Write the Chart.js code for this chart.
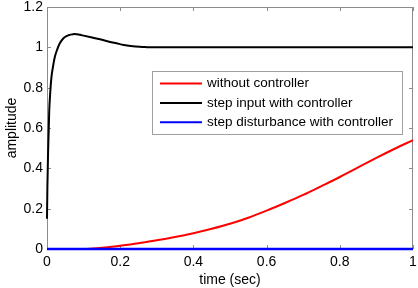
<!DOCTYPE html>
<html>
<head>
<meta charset="utf-8">
<script src="https://cdn.jsdelivr.net/npm/chart.js@4/dist/chart.umd.min.js"></script>
<style>
  html, body { margin: 0; padding: 0; background: #ffffff; }
  #wrap { width: 418px; height: 288px; }
</style>
</head>
<body>
<div id="wrap"><canvas id="respostaChart" width="418" height="288"></canvas></div>
<script>
// dados (tempo em segundos, amplitude)
const xTickLabels = ['0', '0.2', '0.4', '0.6', '0.8', '1'];
const yTickLabels = ['0', '0.2', '0.4', '0.6', '0.8', '1', '1.2'];

const tempoSemControle = [0.1, 0.15, 0.2, 0.25, 0.3, 0.35, 0.4, 0.45, 0.5, 0.55, 0.6, 0.65, 0.7, 0.75, 0.8, 0.85, 0.9, 0.95, 1.0];
const ampSemControle = [0, 0.006, 0.016, 0.028, 0.043, 0.059, 0.078, 0.1, 0.125, 0.155, 0.19, 0.228, 0.268, 0.312, 0.357, 0.405, 0.452, 0.497, 0.54];

const tempoDegrau = [0, 0.001, 0.003, 0.006, 0.009, 0.012, 0.016, 0.021, 0.028, 0.035, 0.045, 0.055, 0.065, 0.076, 0.09, 0.1, 0.12, 0.145, 0.17, 0.19, 0.21, 0.235, 0.26, 0.28, 0.3, 1.0];
const ampDegrau = [0.15, 0.3, 0.48, 0.68, 0.78, 0.85, 0.9, 0.95, 0.99, 1.02, 1.045, 1.057, 1.063, 1.066, 1.062, 1.058, 1.05, 1.04, 1.028, 1.02, 1.012, 1.005, 1.002, 1.0, 1.0, 1.0];

const tempoPerturbacao = [0, 1];
const ampPerturbacao = [0, 0];

const legendas = ['without controller', 'step input with controller', 'step disturbance with controller'];
const cores = ['#ff0000', '#000000', '#0000ff'];

const fonte = "'Liberation Sans', Arial, sans-serif";

function pares(xs, ys) {
    return xs.map((x, i) => ({ x: x, y: ys[i] }));
}

// moldura estilo MATLAB com marcas para dentro
const molduraPlugin = {
    id: 'moldura',
    beforeDatasetsDraw(chart) {
        const { ctx, chartArea: a, scales } = chart;
        ctx.save();
        ctx.strokeStyle = '#8c8c8c';
        ctx.lineWidth = 1;
        ctx.strokeRect(a.left + 0.5, a.top + 0.5, a.right - a.left - 1, a.bottom - a.top - 1);
        const len = 4;
        ctx.beginPath();
        scales.x.ticks.forEach(t => {
            const px = Math.round(scales.x.getPixelForValue(t.value)) + 0.5;
            ctx.moveTo(px, a.bottom); ctx.lineTo(px, a.bottom - len);
            ctx.moveTo(px, a.top); ctx.lineTo(px, a.top + len);
        });
        scales.y.ticks.forEach(t => {
            const py = Math.round(scales.y.getPixelForValue(t.value)) + 0.5;
            ctx.moveTo(a.left, py); ctx.lineTo(a.left + len, py);
            ctx.moveTo(a.right, py); ctx.lineTo(a.right - len, py);
        });
        ctx.stroke();
        ctx.restore();
    }
};

// legenda dentro da área do gráfico
const legendaPlugin = {
    id: 'legendaInterna',
    afterDraw(chart) {
        const { ctx, chartArea: a } = chart;
        const bx = a.left + 105, by = a.top + 64, bw = 250, bh = 63;
        ctx.save();
        ctx.fillStyle = '#ffffff';
        ctx.fillRect(bx, by, bw, bh);
        ctx.strokeStyle = '#a0a0a0';
        ctx.lineWidth = 1;
        ctx.strokeRect(bx + 0.5, by + 0.5, bw, bh);
        ctx.font = '13.5px ' + fonte;
        ctx.textBaseline = 'middle';
        chart.data.datasets.forEach((ds, i) => {
            const y = by + 12.5 + i * 19.4;
            ctx.strokeStyle = ds.borderColor;
            ctx.lineWidth = 2;
            ctx.beginPath();
            ctx.moveTo(bx + 8, y); ctx.lineTo(bx + 50, y);
            ctx.stroke();
            ctx.fillStyle = '#000000';
            ctx.fillText(ds.label, bx + 55, y);
        });
        ctx.restore();
    }
};

document.addEventListener('DOMContentLoaded', () => {
    const ctx = document.getElementById('respostaChart');
    new Chart(ctx, {
        type: 'line',
        data: {
            datasets: [
                { label: legendas[0], data: pares(tempoSemControle, ampSemControle), borderColor: cores[0], borderWidth: 2, order: 3 },
                { label: legendas[1], data: pares(tempoDegrau, ampDegrau), borderColor: cores[1], borderWidth: 2, order: 2 },
                { label: legendas[2], data: pares(tempoPerturbacao, ampPerturbacao), borderColor: cores[2], borderWidth: 2.5, order: 1 }
            ]
        },
        options: {
            responsive: false,
            animation: false,
            devicePixelRatio: 1,
            layout: { padding: { top: 7, right: 5, left: 0, bottom: 0 } },
            elements: {
                point: { radius: 0 },
                line: { tension: 0.3, cubicInterpolationMode: 'monotone', fill: false }
            },
            datasets: { line: { clip: 4 } },
            plugins: { legend: { display: false }, tooltip: { enabled: false } },
            scales: {
                x: {
                    type: 'linear',
                    min: 0, max: 1,
                    grid: { display: false, drawTicks: false, tickLength: 0 },
                    border: { display: false },
                    afterFit(scale) {
                        scale.height = 39;
                        scale.paddingLeft = 0;
                        scale.paddingRight = 0;
                    },
                    ticks: {
                        stepSize: 0.2,
                        color: '#000000',
                        padding: 5,
                        font: { family: fonte, size: 14 },
                        maxRotation: 0,
                        callback: (v, i) => xTickLabels[i]
                    },
                    title: {
                        display: true,
                        text: 'time (sec)',
                        color: '#000000',
                        font: { family: fonte, size: 14 },
                        padding: { top: 0, bottom: -1 }
                    }
                },
                y: {
                    min: 0, max: 1.2,
                    grid: { display: false, drawTicks: false, tickLength: 0 },
                    border: { display: false },
                    afterFit(scale) {
                        scale.width = 47;
                        scale.paddingTop = 0;
                        scale.paddingBottom = 0;
                    },
                    ticks: {
                        stepSize: 0.2,
                        color: '#000000',
                        padding: 4,
                        font: { family: fonte, size: 14 },
                        callback: (v, i) => yTickLabels[i]
                    },
                    title: {
                        display: true,
                        text: 'amplitude',
                        color: '#000000',
                        font: { family: fonte, size: 14 },
                        padding: { top: 4, bottom: 0 }
                    }
                }
            }
        },
        plugins: [molduraPlugin, legendaPlugin]
    });
});
</script>
</body>
</html>
